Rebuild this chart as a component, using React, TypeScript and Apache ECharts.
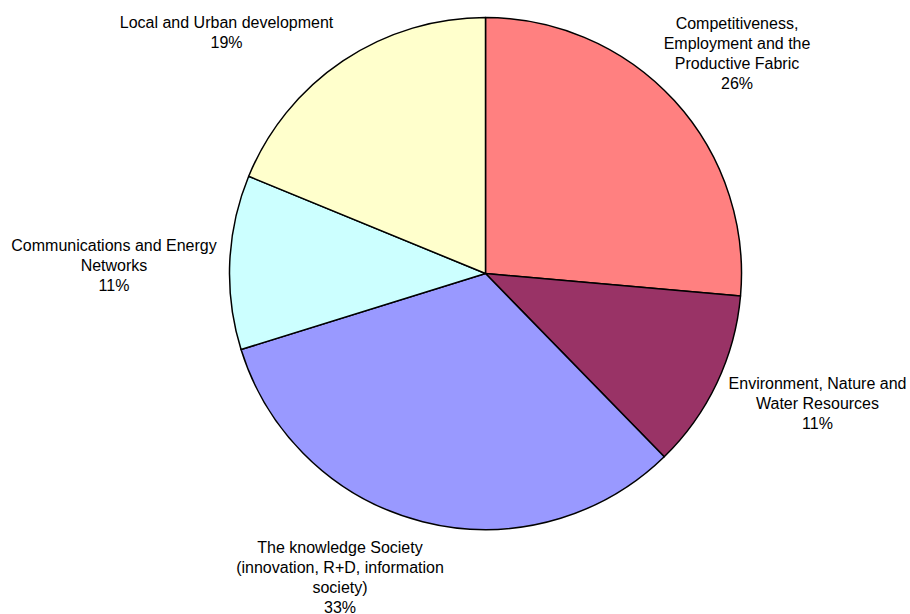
import React, { useEffect, useRef } from "react";
import * as echarts from "echarts";

const categories: string[] = [
  "Competitiveness,\nEmployment and the\nProductive Fabric",
  "Environment, Nature and\nWater Resources",
  "The knowledge Society\n(innovation, R+D, information\nsociety)",
  "Communications and Energy\nNetworks",
  "Local and Urban development",
];
const values: number[] = [26.4, 11.3, 32.5, 11.0, 18.8];
const colors: string[] = ["#FF8080", "#993366", "#9999FF", "#CCFFFF", "#FFFFCC"];
// label anchor (centre of text block), page pixels
const labelPos: [number, number][] = [
  [737, 53],
  [817.5, 403],
  [340, 577],
  [114, 265.5],
  [226.5, 32],
];

export default function App() {
  const ref = useRef<HTMLDivElement>(null);
  useEffect(() => {
    if (!ref.current) return;
    const chart = echarts.init(ref.current, undefined, { renderer: "svg" });
    chart.setOption({
      animation: false,
      backgroundColor: "#ffffff",
      series: [
        {
          type: "pie",
          center: [485.5, 273.5],
          radius: [0, 256],
          startAngle: 90,
          clockwise: true,
          avoidLabelOverlap: false,
          data: categories.map((name, i) => ({
            name,
            value: values[i],
            itemStyle: { color: colors[i] },
          })),
          itemStyle: {
            borderColor: "#000000",
            borderWidth: 1.5,
          },
          label: {
            show: true,
            position: "outside",
            formatter: (p: any) => `${p.name}\n${Math.round(p.value)}%`,
            color: "#000000",
            fontFamily: "'Liberation Sans', Arial, sans-serif",
            fontSize: 16,
            lineHeight: 20,
            align: "center",
          },
          labelLine: { show: false },
          labelLayout: (params: any) => {
            const [x, y] = labelPos[params.dataIndex];
            return { x, y, align: "center", verticalAlign: "middle" };
          },
          emphasis: { disabled: true },
        },
      ],
    });
    return () => chart.dispose();
  }, []);
  return (
    <div
      ref={ref}
      style={{ position: "fixed", left: 0, top: 0, width: 910, height: 614 }}
    />
  );
}
